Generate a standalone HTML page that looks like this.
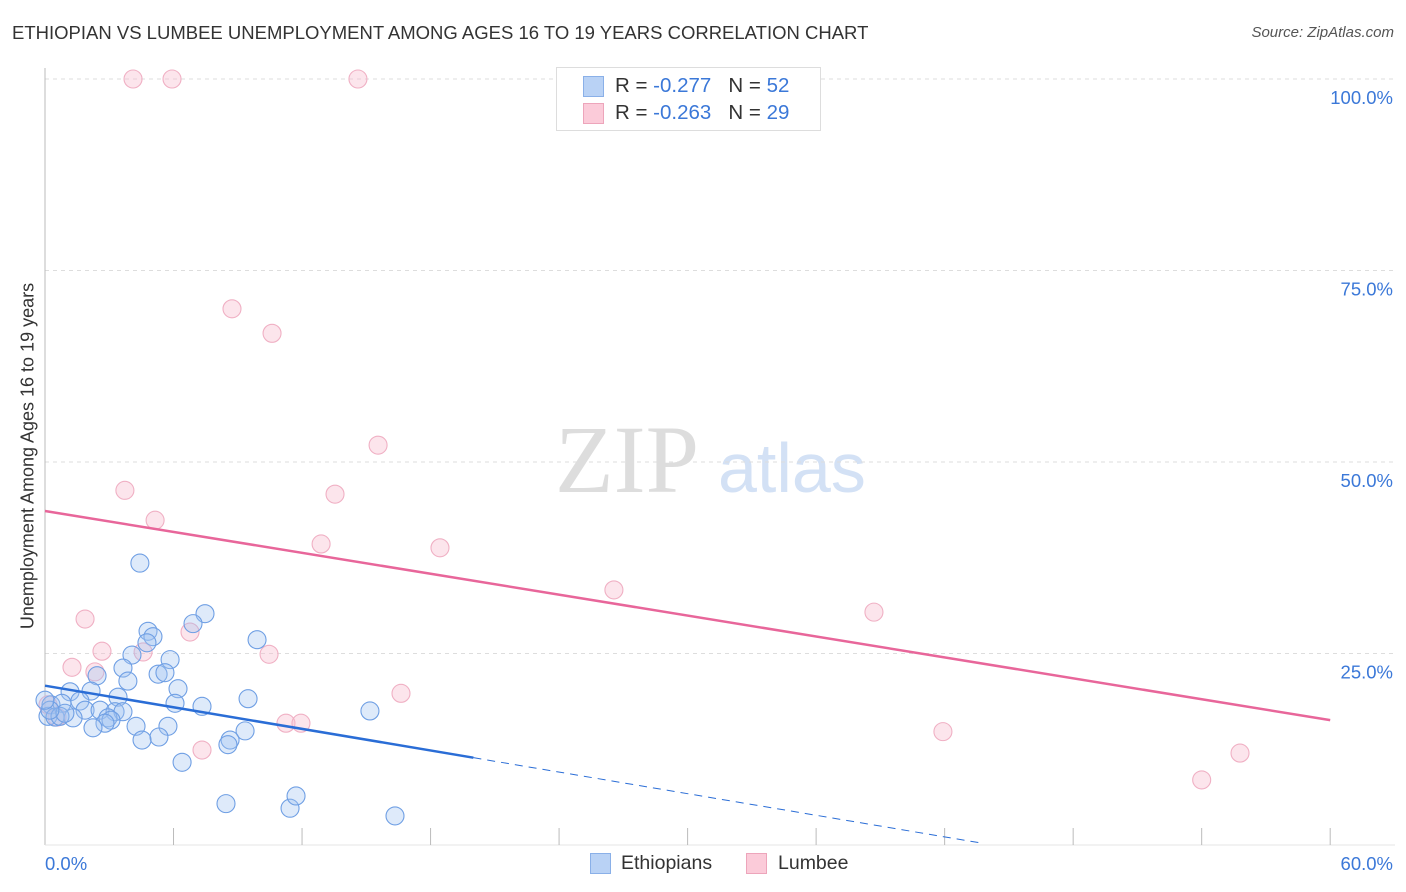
<!DOCTYPE html>
<html><head><meta charset="utf-8"><style>
body{margin:0;background:#fff;font-family:"Liberation Sans",sans-serif;}
#wrap{position:relative;width:1406px;height:892px;overflow:hidden;}
.t{position:absolute;white-space:nowrap;}
</style></head><body>
<div id="wrap">
<div class="t" style="left:12px;top:22px;font-size:18.5px;color:#333;">ETHIOPIAN VS LUMBEE UNEMPLOYMENT AMONG AGES 16 TO 19 YEARS CORRELATION CHART</div>
<div class="t" style="right:12px;top:24px;font-size:15px;color:#555;font-style:italic">Source: ZipAtlas.com</div>
<svg id="svg" width="1406" height="892" style="position:absolute;left:0;top:0">
<text x="555" y="492" font-family="Liberation Serif,serif" font-size="96" fill="#ddd">ZIP</text>
<text x="718" y="492" font-family="Liberation Sans,sans-serif" font-size="70" fill="#d3e1f5">atlas</text>
</svg>
<div class="t" style="left:28px;top:456px;font-size:18px;color:#333;transform:translate(-50%,-50%) rotate(-90deg)">Unemployment Among Ages 16 to 19 years</div>
<div style="position:absolute;left:556px;top:67px;width:263px;height:62px;border:1px solid #ddd;background:#fff;font-size:20.5px;">
 <div style="position:absolute;left:26px;top:8px;width:19px;height:19px;background:#b9d2f5;border:1px solid #8ab0e8"></div>
 <div class="t" style="left:58px;top:6px;color:#333">R = <span style="color:#3b78d8">-0.277</span>&nbsp;&nbsp;&nbsp;N = <span style="color:#3b78d8">52</span></div>
 <div style="position:absolute;left:26px;top:35px;width:19px;height:19px;background:#fbcbd9;border:1px solid #eda5bb"></div>
 <div class="t" style="left:58px;top:33px;color:#333">R = <span style="color:#3b78d8">-0.263</span>&nbsp;&nbsp;&nbsp;N = <span style="color:#3b78d8">29</span></div>
</div>
<div style="position:absolute;left:588px;top:852px;font-size:19.5px;color:#333;">
 <div style="position:absolute;left:2px;top:1px;width:19px;height:19px;background:#b9d2f5;border:1px solid #8ab0e8"></div>
 <div class="t" style="left:33px;top:0">Ethiopians</div>
 <div style="position:absolute;left:158px;top:1px;width:19px;height:19px;background:#fbcbd9;border:1px solid #eda5bb"></div>
 <div class="t" style="left:190px;top:0">Lumbee</div>
</div>
</div>
<script>
const yTicks=[25,50,75,100];
const yTickLabels=["25.0%","50.0%","75.0%","100.0%"];
const xTickCount=10;
const blueX=[4.43,4.81,5.04,4.76,7.47,6.91,4.06,5.84,3.64,5.28,5.60,3.87,6.21,2.43,1.17,2.15,3.41,9.48,9.90,6.07,7.33,0.28,0.79,1.63,1.87,2.57,3.27,3.64,2.94,3.08,2.80,1.31,2.24,4.25,5.74,9.34,8.64,8.54,5.32,4.53,6.40,15.17,8.45,11.44,11.72,16.34,0.14,0.47,0.70,0.93,0.23,0.0];
const blueY=[36.8,27.9,27.2,26.4,30.2,28.9,24.8,24.2,23.1,22.3,22.5,21.4,20.4,22.1,20.0,20.1,19.3,19.1,26.8,18.5,18.1,18.3,18.5,18.8,17.6,17.6,17.4,17.4,16.6,16.3,15.9,16.6,15.3,15.5,15.5,14.9,13.7,13.1,14.1,13.7,10.8,17.5,5.4,4.8,6.4,3.8,16.8,16.7,16.8,17.2,17.6,18.9];
const pinkX=[4.11,5.93,14.61,8.73,10.6,15.55,3.73,13.54,5.14,12.89,18.44,26.56,38.7,1.87,6.77,4.58,2.66,10.46,1.26,2.33,16.62,11.25,11.95,7.33,41.92,55.79,54.0,0.56,0.14];
const pinkY=[100,100,100,70.0,66.8,52.2,46.3,45.8,42.4,39.3,38.8,33.3,30.4,29.5,27.8,25.2,25.3,24.9,23.2,22.6,19.8,15.9,15.9,12.4,14.8,12.0,8.5,16.7,18.3];
const blueTrend=[20.8,-0.47];
const pinkTrend=[43.6,-0.455];
const blueSolidEnd=20;
const blueDashEnd=43.8;
const X=v=>45+v*21.42, Y=v=>845-v*7.66;
const svg=document.getElementById('svg'), NS='http://www.w3.org/2000/svg';
function mk(t,a){const e=document.createElementNS(NS,t);for(const k in a)e.setAttribute(k,a[k]);svg.appendChild(e);return e;}
yTicks.forEach((v,i)=>{
 const g=mk('line',{x1:45,x2:1395,y1:Y(v),y2:Y(v),stroke:'#ddd','stroke-dasharray':'4,4'});
 
 
 const t=mk('text',{x:1393,y:Y(v)+25,'text-anchor':'end','font-size':18.5,fill:'#3b78d8','font-family':'Liberation Sans,sans-serif'});
 t.textContent=yTickLabels[i];
 
 
});
const ax=mk('line',{x1:45,x2:45,y1:68,y2:845,stroke:'#bbb'});


const bx=mk('line',{x1:45,x2:1395,y1:845,y2:845,stroke:'#e4e4e4'});


for(let i=1;i<=xTickCount;i++){
 const tk=mk('line',{x1:X(i*6),x2:X(i*6),y1:828,y2:845,stroke:'#bbb'});
 
 
}
[['0.0%',45,'start'],['60.0%',1393,'end']].forEach(a=>{
 const t=mk('text',{x:a[1],y:870,'text-anchor':a[2],'font-size':18.5,fill:'#3b78d8','font-family':'Liberation Sans,sans-serif'});
 t.textContent=a[0];
 
 
});
pinkX.forEach((x,i)=>{
 const c=mk('circle',{cx:X(x),cy:Y(pinkY[i]),r:9,fill:'rgba(248,190,208,0.4)',stroke:'#f0b0c4','stroke-width':1.1});
 
 
});
blueX.forEach((x,i)=>{
 const c=mk('circle',{cx:X(x),cy:Y(blueY[i]),r:9,fill:'rgba(160,196,240,0.35)',stroke:'#6f9fe4','stroke-width':1.1});
 
 
});
const bl=mk('line',{x1:X(0),y1:Y(blueTrend[0]),x2:X(blueSolidEnd),y2:Y(blueTrend[0]+blueTrend[1]*blueSolidEnd),stroke:'#2a6dd6','stroke-width':2.5});


const bd=mk('line',{x1:X(blueSolidEnd),y1:Y(blueTrend[0]+blueTrend[1]*blueSolidEnd),x2:X(blueDashEnd),y2:Y(Math.max(0,blueTrend[0]+blueTrend[1]*blueDashEnd)),stroke:'#2a6dd6','stroke-width':1,'stroke-dasharray':'8,6'});


const pl=mk('line',{x1:X(0),y1:Y(pinkTrend[0]),x2:X(60),y2:Y(pinkTrend[0]+pinkTrend[1]*60),stroke:'#e8669a','stroke-width':2.5});


</script>
</body></html>
